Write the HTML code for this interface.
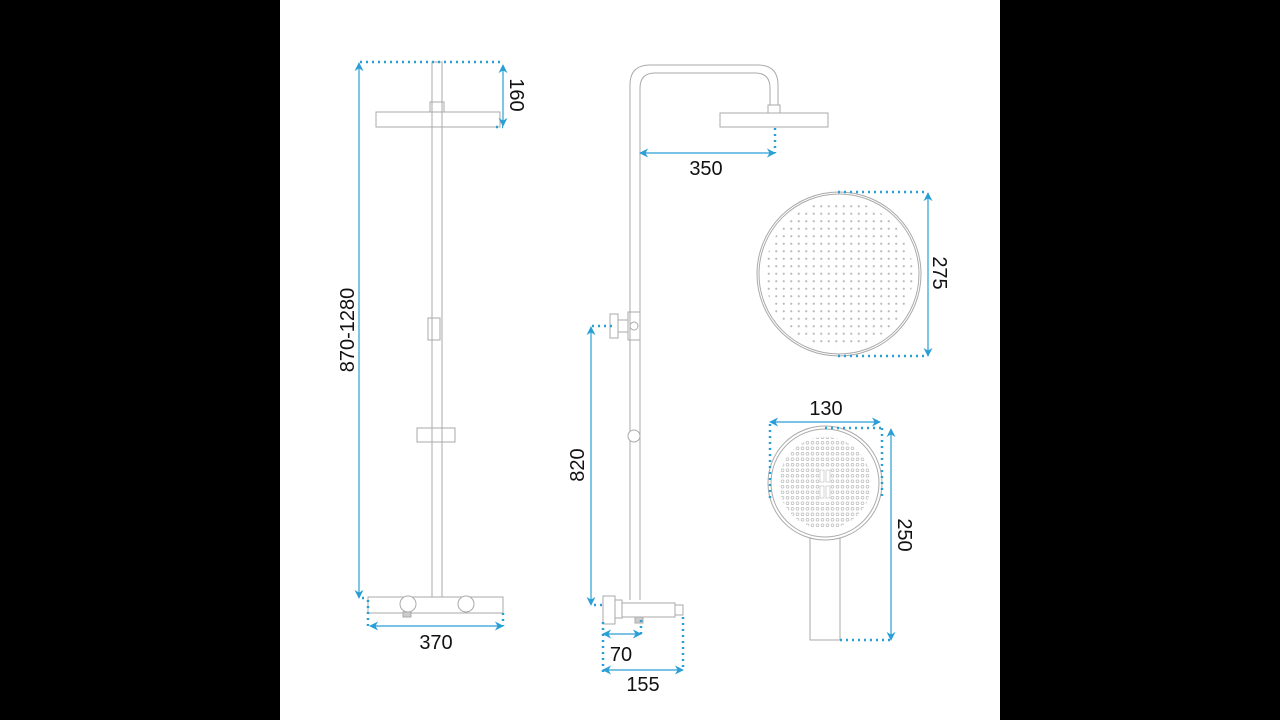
<!DOCTYPE html>
<html><head><meta charset="utf-8"><style>
html,body{margin:0;padding:0;background:#000;}
svg{display:block}
text{font-family:"Liberation Sans",sans-serif;font-size:20px;fill:#111;}
</style></head><body>
<svg width="1280" height="720" viewBox="0 0 1280 720" xmlns="http://www.w3.org/2000/svg">
<defs>
<marker id="a" viewBox="0 0 10 10" refX="9" refY="5" markerWidth="9" markerHeight="9" orient="auto-start-reverse" markerUnits="userSpaceOnUse"><path d="M0,0 L10,5 L0,10 L3,5z" fill="#2a9fd6"/></marker>
<pattern id="dots" x="0" y="0" width="7.5" height="7.5" patternUnits="userSpaceOnUse"><circle cx="3.75" cy="3.75" r="1.1" fill="#bbb"/></pattern>
<pattern id="dots2" x="0" y="0" width="5" height="5.5" patternUnits="userSpaceOnUse"><circle cx="2.5" cy="2.75" r="1.4" fill="none" stroke="#bbb" stroke-width="0.7"/></pattern>
<clipPath id="c1"><circle cx="839" cy="274" r="74"/></clipPath>
<clipPath id="c2"><circle cx="825" cy="483" r="46"/></clipPath>
</defs>
<rect x="280" y="0" width="720" height="720" fill="#fff"/>
<g fill="none" stroke="#aaa" stroke-width="1">
<!-- left -->
<rect x="432" y="62" width="10" height="536"/>
<rect x="376" y="112" width="124" height="15"/>
<rect x="430" y="102" width="14" height="10"/>
<rect x="428" y="318" width="12" height="22"/>
<rect x="417" y="428" width="38" height="14"/>
<rect x="368" y="597" width="135" height="16" fill="#fff"/>
<circle cx="408" cy="604" r="8" fill="#fff"/>
<circle cx="466" cy="604" r="8" fill="#fff"/>
<rect x="403" y="612" width="8" height="5" fill="#ccc"/>
<line x1="422" y1="613" x2="450" y2="613"/>
<!-- middle -->
<path d="M630,600 V85 Q630,65 650,65 H758 Q778,65 778,85 V105"/>
<path d="M640,600 V88 Q640,73 655,73 H755 Q770,73 770,88 V105"/>
<rect x="768" y="105" width="12" height="8"/>
<rect x="720" y="113" width="108" height="14"/>
<rect x="628" y="312" width="12" height="28"/>
<rect x="610" y="314" width="8" height="24"/>
<rect x="618" y="320" width="10" height="12"/>
<circle cx="634" cy="326" r="4"/>
<circle cx="634" cy="436" r="6" fill="#fff"/>
<rect x="603" y="596" width="12" height="28" fill="#fff"/>
<rect x="615" y="600" width="7" height="18" fill="#fff"/>
<rect x="622" y="603" width="53" height="14" fill="#fff"/>
<rect x="675" y="605" width="8" height="10" fill="#fff"/>
<rect x="635" y="617" width="8" height="6" fill="#ccc"/>
<!-- round head -->
<circle cx="839" cy="274" r="82"/>
<circle cx="839" cy="274" r="80"/>
<!-- hand shower -->
<path d="M810,536 V640 H840 V536"/>
<circle cx="825" cy="483" r="57" fill="#fff"/>
<circle cx="825" cy="483" r="54"/>
</g>
<circle cx="839" cy="274" r="74" fill="url(#dots)" clip-path="url(#c1)"/>
<rect x="770" y="430" width="110" height="110" fill="url(#dots2)" clip-path="url(#c2)"/>
<rect x="820" y="468" width="10" height="34" fill="#fff"/>
<g stroke="#ccc" fill="none" stroke-width="0.8"><rect x="820" y="470" width="4" height="12"/><rect x="826" y="470" width="4" height="12"/><rect x="820" y="486" width="4" height="12"/><rect x="826" y="486" width="4" height="12"/></g>
<!-- dimension lines -->
<g stroke="#2a9fd6" stroke-width="1.2" fill="none">
<line x1="359" y1="598" x2="359" y2="63" marker-start="url(#a)" marker-end="url(#a)"/>
<line x1="503" y1="65" x2="503" y2="126" marker-start="url(#a)" marker-end="url(#a)"/>
<line x1="370" y1="626" x2="503" y2="626" marker-start="url(#a)" marker-end="url(#a)"/>
<line x1="640" y1="153" x2="775" y2="153" marker-start="url(#a)" marker-end="url(#a)"/>
<line x1="591" y1="605" x2="591" y2="327" marker-start="url(#a)" marker-end="url(#a)"/>
<line x1="603" y1="634" x2="641" y2="634" marker-start="url(#a)" marker-end="url(#a)"/>
<line x1="603" y1="670" x2="683" y2="670" marker-start="url(#a)" marker-end="url(#a)"/>
<line x1="928" y1="193" x2="928" y2="356" marker-start="url(#a)" marker-end="url(#a)"/>
<line x1="770" y1="422" x2="880" y2="422" marker-start="url(#a)" marker-end="url(#a)"/>
<line x1="891" y1="429" x2="891" y2="640" marker-start="url(#a)" marker-end="url(#a)"/>
</g>
<g stroke="#2a9fd6" stroke-width="2.5" stroke-dasharray="2,4" fill="none">
<line x1="360" y1="62" x2="503" y2="62"/>
<line x1="496" y1="127" x2="503" y2="127"/>
<line x1="362" y1="598" x2="368" y2="598"/>
<line x1="368" y1="600" x2="368" y2="626"/>
<line x1="503" y1="613" x2="503" y2="626"/>
<line x1="775" y1="128" x2="775" y2="153"/>
<line x1="592" y1="326" x2="612" y2="326"/>
<line x1="594" y1="605" x2="603" y2="605"/>
<line x1="603" y1="622" x2="603" y2="672"/>
<line x1="641" y1="620" x2="641" y2="634"/>
<line x1="683" y1="617" x2="683" y2="670"/>
<line x1="838" y1="192" x2="928" y2="192"/>
<line x1="838" y1="356" x2="928" y2="356"/>
<line x1="770" y1="424" x2="770" y2="500"/>
<line x1="825" y1="428" x2="882" y2="428"/>
<line x1="882" y1="428" x2="882" y2="500"/>
<line x1="840" y1="640" x2="891" y2="640"/>
</g>
<!-- labels -->
<text x="436" y="649" text-anchor="middle">370</text>
<text x="706" y="175" text-anchor="middle">350</text>
<text x="621" y="661" text-anchor="middle">70</text>
<text x="643" y="691" text-anchor="middle">155</text>
<text x="826" y="415" text-anchor="middle">130</text>
<text transform="translate(510,95) rotate(90)" text-anchor="middle">160</text>
<text transform="translate(354,330) rotate(-90)" text-anchor="middle">870-1280</text>
<text transform="translate(584,465) rotate(-90)" text-anchor="middle">820</text>
<text transform="translate(933,273) rotate(90)" text-anchor="middle">275</text>
<text transform="translate(898,535) rotate(90)" text-anchor="middle">250</text>
</svg>
</body></html>
